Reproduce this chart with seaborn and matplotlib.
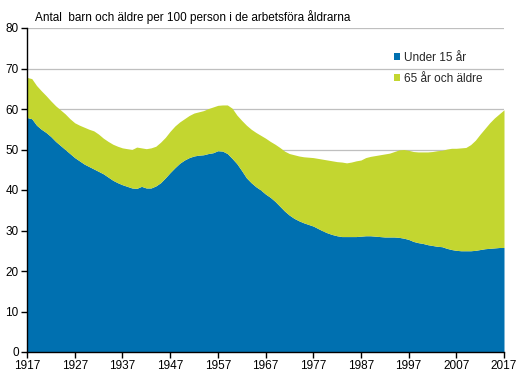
import numpy as np
import pandas as pd
import matplotlib
matplotlib.use("Agg")
import matplotlib.pyplot as plt
from matplotlib.patches import Patch
import seaborn as sns

years = list(range(1917, 2018))

under15 = [57.9, 57.6, 56.0, 55.0, 54.2, 53.2, 52.0, 51.0, 50.0, 49.0,
           48.0, 47.2, 46.4, 45.8, 45.2, 44.6, 44.0, 43.2, 42.4, 41.8,
           41.3, 40.9, 40.5, 40.4, 40.9, 40.5, 40.5, 41.0, 41.8, 43.0,
           44.3, 45.5, 46.6, 47.4, 48.0, 48.4, 48.6, 48.7, 49.0, 49.2,
           49.7, 49.6, 49.0, 47.8, 46.5, 44.8, 43.0, 41.8, 40.8, 40.0,
           39.0, 38.2, 37.2, 36.0, 34.8, 33.8, 33.0, 32.4, 31.9, 31.5,
           31.1, 30.5, 29.9, 29.4, 29.0, 28.7, 28.5, 28.5, 28.5, 28.5,
           28.6, 28.7, 28.7, 28.6, 28.5, 28.4, 28.4, 28.4, 28.3, 28.1,
           27.8, 27.3, 27.0, 26.8, 26.5, 26.3, 26.1, 26.0, 25.6, 25.3,
           25.1, 25.0, 25.0, 25.0, 25.1, 25.3, 25.5, 25.6, 25.7, 25.8,
           25.8]

over65 = [9.9, 9.9, 9.8, 9.5, 9.1, 8.8, 8.8, 8.8, 8.8, 8.6,
          8.6, 8.8, 9.1, 9.2, 9.4, 9.2, 8.8, 8.8, 8.9, 9.0,
          9.1, 9.3, 9.5, 10.2, 9.5, 9.7, 9.9, 9.8, 10.0, 10.0,
          10.2, 10.3, 10.2, 10.2, 10.4, 10.6, 10.7, 10.9, 11.1, 11.3,
          11.2, 11.4, 12.0, 12.4, 12.0, 12.4, 13.0, 13.2, 13.4, 13.5,
          13.8, 13.8, 14.1, 14.5, 14.8, 15.2, 15.7, 16.0, 16.3, 16.6,
          16.9, 17.3, 17.7, 18.0, 18.2, 18.3, 18.4, 18.2, 18.4, 18.7,
          18.8, 19.3, 19.6, 19.9, 20.2, 20.5, 20.7, 21.1, 21.6, 21.9,
          22.0, 22.2, 22.4, 22.6, 22.9, 23.2, 23.6, 23.8, 24.5, 25.0,
          25.2, 25.4, 25.5, 26.2, 27.2, 28.5, 29.7, 31.0, 32.1, 33.0,
          34.0]

series_names = ["Under 15 år", "65 år och äldre"]
colors = ["#0070B0", "#C3D630"]
xticks = list(range(1917, 2018, 10))

df = pd.DataFrame({"year": years, series_names[0]: under15, series_names[1]: over65})

sns.set_theme(style="white")
plt.rcParams["font.family"] = ["Liberation Sans", "DejaVu Sans"]

fig = plt.figure(figsize=(5.31, 3.76), dpi=100)
ax = fig.add_axes([27 / 531, 1 - 352 / 376, 477 / 531, 324 / 376])

ax.stackplot(df["year"], df[series_names[0]], df[series_names[1]],
             colors=colors, linewidth=0, zorder=2)

ax.set_xlim(1917, 2017)
ax.set_ylim(0, 80)
ax.set_xticks(xticks)
ax.set_yticks(range(0, 81, 10))
ax.yaxis.grid(True, color="#BFBFBF", linewidth=0.9, zorder=0)
ax.set_axisbelow(True)

for s in ["top", "right"]:
    ax.spines[s].set_visible(False)
for s in ["left", "bottom"]:
    ax.spines[s].set_color("black")
    ax.spines[s].set_linewidth(1.0)

ax.tick_params(axis="both", direction="out", length=4, width=1, color="black",
               labelsize=8.5, labelcolor="black", pad=2,
               bottom=True, left=True)

fig.text(35 / 531, 1 - 17 / 376, "Antal  barn och äldre per 100 person i de arbetsföra åldrarna",
         fontsize=8.5, ha="left", va="center", color="black")

handles = [Patch(facecolor=c, edgecolor="none") for c in colors]
leg = ax.legend(handles, series_names, loc="upper left",
                bbox_to_anchor=((389 - 27) / 477, (352 - 47) / 324),
                frameon=False, fontsize=8.5, handlelength=0.55, handleheight=0.55,
                handletextpad=0.3, labelspacing=0.75, borderaxespad=0)

fig.savefig("out.png", dpi=100)
